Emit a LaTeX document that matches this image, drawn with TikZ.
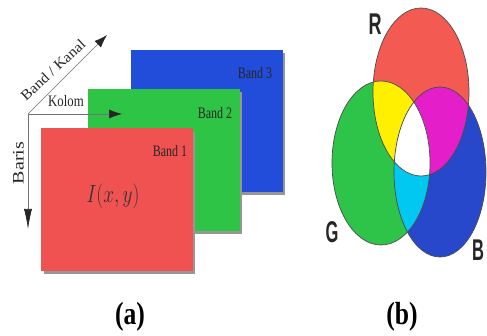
\documentclass[tikz,border=0pt]{standalone}
\usepackage{fontspec}
\setmainfont{Liberation Serif}
\newfontfamily\rgbfont{Liberation Sans}
\usetikzlibrary{arrows.meta}
\definecolor{redA}{RGB}{240,82,82}
\definecolor{greenA}{RGB}{46,196,70}
\definecolor{blueA}{RGB}{34,76,218}
\definecolor{redV}{RGB}{242,90,82}
\definecolor{greenV}{RGB}{46,196,74}
\definecolor{blueV}{RGB}{40,72,204}
\definecolor{yelV}{RGB}{255,240,0}
\definecolor{magV}{RGB}{228,30,200}
\definecolor{cyaV}{RGB}{0,200,240}
\definecolor{shad}{RGB}{150,150,150}
\newcommand{\sq}[2]{\scalebox{#1}[1]{#2}}
\def\Rpath{(421,92) ellipse [x radius=48pt, y radius=84pt]}
\def\Gpath{(381,163) ellipse [x radius=49pt, y radius=82pt]}
\def\Bpath{(440,172) ellipse [x radius=46pt, y radius=85pt]}
\begin{document}
\begin{tikzpicture}[x=1pt,y=-1pt,
  plane/.style={minimum width=152pt, minimum height=142pt, inner sep=0pt, outer sep=0pt},
  bandlbl/.style={inner sep=0pt, text=black!85, font=\fontsize{16}{16}\selectfont},
  axlbl/.style={inner sep=0pt, text=black!85, font=\fontsize{16}{16}\selectfont},
  axis/.style={draw=black!55, line width=0.6pt},
  rgblbl/.style={inner sep=0pt, text=black!85, font=\rgbfont\bfseries\fontsize{30}{30}\selectfont},
  caplbl/.style={inner sep=0pt, text=black, font=\bfseries\fontsize{32}{32}\selectfont},
  outl/.style={draw=black!70, line width=0.7pt}]
\useasboundingbox (0,0) rectangle (487,336);
\fill[white] (0,0) rectangle (487,336);

% ---- (a) planes ----
\fill[shad] (133,53) rectangle (285,195);
\node[plane, fill=blueA] (b3) at (207,121) {};
\fill[shad] (90,92) rectangle (242,234);
\node[plane, fill=greenA] (b2) at (164,160) {};
\fill[shad] (44,132) rectangle (195,274);
\node[plane, fill=redA, minimum height=143pt] (b1) at (117,200) {};

\node[bandlbl] (l3) at ([xshift=-28pt, yshift=-23pt]b3.north east) {\sq{0.75}{Band 3}};
\node[bandlbl] (l2) at ([xshift=-25pt, yshift=-24pt]b2.north east) {\sq{0.75}{Band 2}};
\node[bandlbl] (l1) at ([xshift=-23pt, yshift=-23pt]b1.north east) {\sq{0.75}{Band 1}};
\node[inner sep=0pt, text=black!80] (ixy) at (113,196) {\sq{0.78}{\fontsize{25}{25}\selectfont$I(x,y)$}};

% ---- axes ----
\coordinate (O) at (28,114);
\coordinate (Kend) at (122,114);
\coordinate (Bend) at (28,229);
\coordinate (Dend) at (107,35);
\draw[axis, -{Latex[length=13pt,width=9pt,color=black!85]}] (O) -- (Kend);
\draw[axis, -{Latex[length=20pt,width=8pt,color=black!85]}] (O) -- (Bend);
\draw[axis, -{Latex[length=13pt,width=9pt,color=black!85]}] (O) -- (Dend);
\node[axlbl] (kolom) at (66,101) {\sq{0.8}{Kolom}};
\node[axlbl, rotate=90] (baris) at (18.5,163) {\scalebox{1}[0.8]{\fontsize{20}{20}\selectfont Baris}};
\node[axlbl, rotate=43] (kanal) at (53,70) {\scalebox{0.92}[0.85]{\fontsize{17}{17}\selectfont Band / Kanal}};

% ---- (b) venn ----
\fill[redV] \Rpath;
\fill[greenV] \Gpath;
\fill[blueV] \Bpath;
\begin{scope}\clip \Rpath; \fill[yelV] \Gpath; \end{scope}
\begin{scope}\clip \Rpath; \fill[magV] \Bpath; \end{scope}
\begin{scope}\clip \Gpath; \fill[cyaV] \Bpath; \end{scope}
\begin{scope}\clip \Rpath; \clip \Gpath; \fill[white] \Bpath; \end{scope}
\draw[outl] \Rpath;
\draw[outl] \Gpath;
\draw[outl] \Bpath;
\node[rgblbl] (R) at (375,24) {\sq{0.6}{R}};
\node[rgblbl] (G) at (332,232) {\sq{0.55}{G}};
\node[rgblbl] (B) at (478,250) {\sq{0.55}{B}};

% ---- captions ----
\node[caplbl] (capa) at (130,317) {\sq{0.8}{(a)}};
\node[caplbl] (capb) at (402,317) {\sq{0.8}{(b)}};
\end{tikzpicture}
\end{document}
